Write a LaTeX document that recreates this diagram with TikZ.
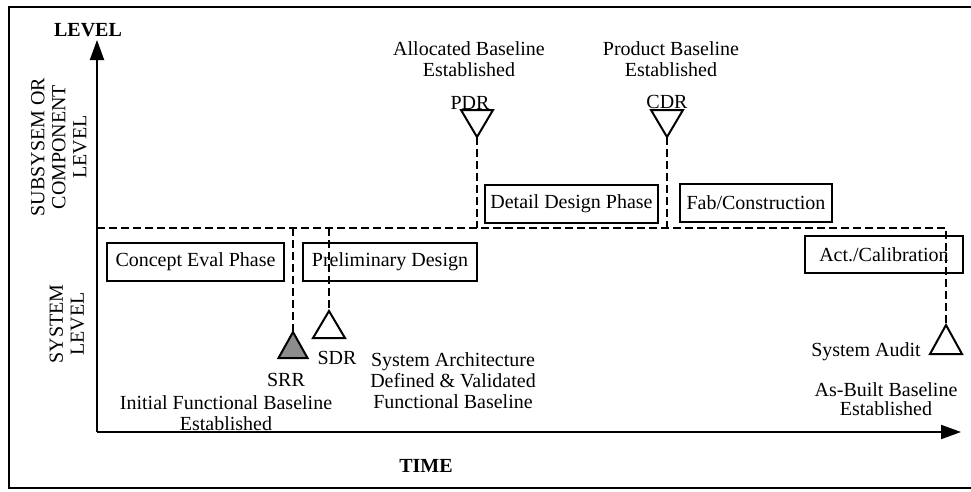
\documentclass[tikz,border=0pt]{standalone}
\usepackage{fontspec}
\setmainfont{Liberation Serif}
\usetikzlibrary{arrows.meta}
\begin{document}
\begin{tikzpicture}[x=1pt,y=-1pt,
  txt/.style={font=\fontsize{20}{21}\selectfont, inner sep=0pt, align=center},
  boldtxt/.style={font=\fontsize{20}{21}\selectfont\bfseries, inner sep=0pt},
  phase/.style={draw, line width=1.8pt, font=\fontsize{20}{21}\selectfont, inner sep=0pt, minimum height=38pt},
  axisline/.style={line width=2pt, -{Triangle[length=20pt,width=14pt]}},
  dashline/.style={line width=2pt, dash pattern=on 8pt off 4pt},
  tri/.style={draw, line width=2pt, line join=miter}
]
\useasboundingbox (0,0) rectangle (971,491);
% outer frame (no right edge)
\draw[line width=1.4pt] (971,7) -- (9,7) -- (9,488) -- (971,488);

% axes
\coordinate (origin) at (97,432);
\coordinate (ytip) at (97,40);
\coordinate (xtip) at (961,432);
\draw[axisline] (origin) -- (ytip);
\draw[axisline] (origin) -- (xtip);
\node[boldtxt] (levellbl) at (88,30) {LEVEL};
\node[boldtxt] (timelbl) at (426,466) {TIME};

% side labels
\node[txt, rotate=90] (subsys) at (59,147) {SUBSYSEM OR\\COMPONENT\\LEVEL};
\node[txt, rotate=90] (syslev) at (67,324) {SYSTEM\\LEVEL};

% phase boxes
\node[phase, minimum width=177pt] (concept) at (195.5,262) {Concept Eval Phase};
\node[phase, minimum width=174pt] (prelim) at (390,262) {Preliminary Design};
\node[phase, minimum width=173pt] (detail) at (571.5,204) {Detail Design Phase};
\node[phase, minimum width=152pt] (fab) at (756,203) {Fab/Construction};
\node[phase, minimum width=158pt, minimum height=37pt] (act) at (884,254.5) {Act./Calibration};

% level boundary (dashed)
\coordinate (dl) at (97,228);
\coordinate (dr) at (946,228);
\coordinate (dsrr) at (293,228);
\coordinate (dsdr) at (329,228);
\coordinate (dpdr) at (477,228);
\coordinate (dcdr) at (667,228);

% milestone apexes
\coordinate (srr) at (293,332);
\coordinate (sdr) at (329,311);
\coordinate (pdr) at (477,137);
\coordinate (cdr) at (667,137);
\coordinate (audit) at (946,325);

\draw[dashline] (dl) -- (dr) -- (audit);
\draw[dashline] (dsrr) -- (srr);
\draw[dashline] (dsdr) -- (sdr);
\draw[dashline] (pdr) -- (dpdr);
\draw[dashline] (cdr) -- (dcdr);

% triangles
\draw[tri, fill=black!45] (srr) -- ++(14.5,26) -- ++(-29,0) -- cycle;
\draw[tri] (sdr) -- ++(16,27) -- ++(-32,0) -- cycle;
\draw[tri] (pdr) -- ++(16,-27) -- ++(-32,0) -- cycle;
\draw[tri] (cdr) -- ++(16,-27) -- ++(-32,0) -- cycle;
\draw[tri] (audit) -- ++(16,29) -- ++(-32,0) -- cycle;

% milestone labels
\node[txt] (srrlbl) at (286,380) {SRR};
\node[txt] (srrtxt) at (226,413) {Initial Functional Baseline\\Established};
\node[txt] (sdrlbl) at (337,358) {SDR};
\node[txt] (sdrtxt) at (453,381) {System Architecture\\Defined \& Validated\\Functional Baseline};
\node[txt] (pdrlbl) at (470,103) {PDR};
\node[txt] (pdrtxt) at (469,59) {Allocated Baseline\\Established};
\node[txt] (cdrlbl) at (667,102) {CDR};
\node[txt] (cdrtxt) at (671,59) {Product Baseline\\Established};
\node[txt] (auditlbl) at (866,352) {System Audit};
\node[txt, font=\fontsize{20}{19}\selectfont] (audittxt) at (886,399) {As-Built Baseline\\Established};
\end{tikzpicture}
\end{document}
